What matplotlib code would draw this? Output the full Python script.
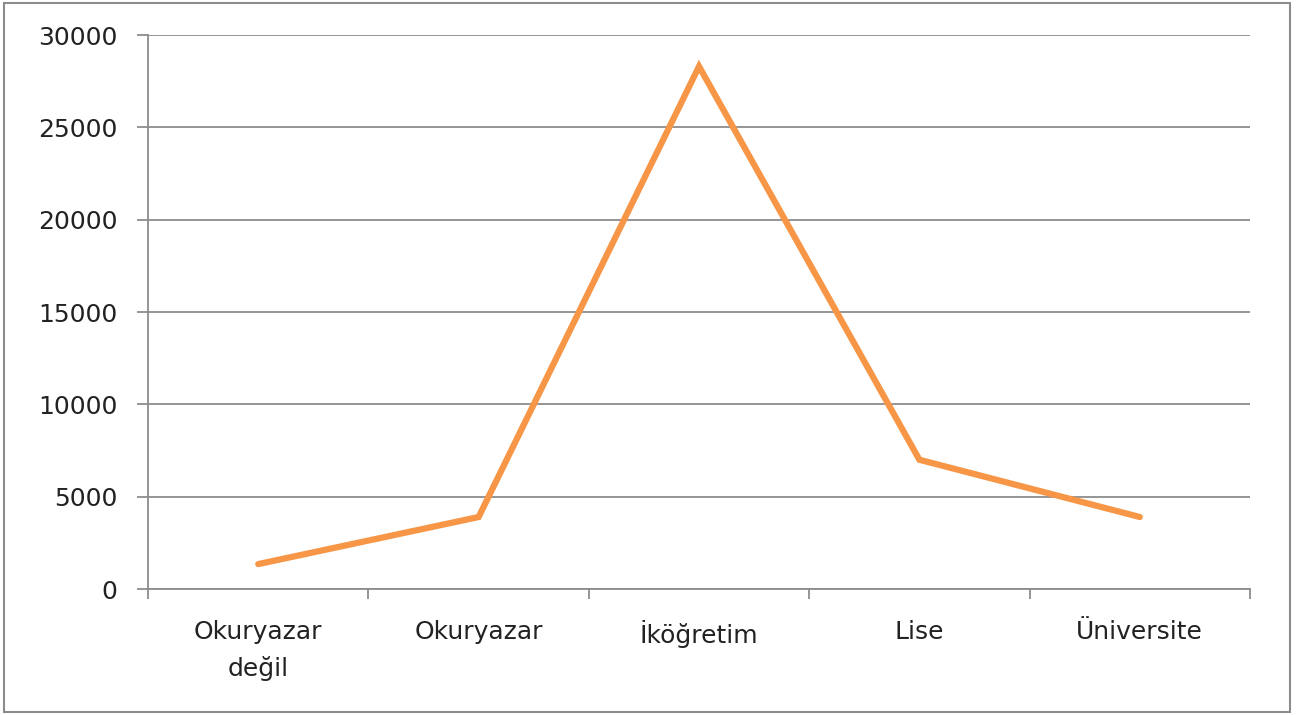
import numpy as np
import matplotlib.pyplot as plt
from matplotlib.patches import Rectangle

# egitim durumu
categories = ["Okuryazar\ndeğil", "Okuryazar", "İköğretim", "Lise", "Üniversite"]
values = [1350, 3900, 28300, 7000, 3900]
yticks = [0, 5000, 10000, 15000, 20000, 25000, 30000]

fig = plt.figure(figsize=(13.01, 7.15), dpi=100)
ax = fig.add_axes([0.1138, 0.1762, 0.847, 0.7748])

x = np.arange(len(categories))
ax.plot(x, values, color="#F79646", linewidth=4.5, solid_capstyle="round", solid_joinstyle="miter", zorder=3)

ax.set_xlim(-0.5, len(categories) - 0.5)
ax.set_ylim(0, 30000)
ax.set_yticks(yticks)
ax.set_yticklabels([str(v) for v in yticks])
ax.set_xticks(x)
ax.set_xticklabels(categories, linespacing=1.6)
ax.set_xticks(np.arange(len(categories) + 1) - 0.5, minor=True)

ax.grid(axis="y", color="#8c8c8c", linewidth=1.3, zorder=0)
for s in ["top", "right"]:
    ax.spines[s].set_visible(False)
for s in ["left", "bottom"]:
    ax.spines[s].set_color("#8c8c8c")
    ax.spines[s].set_linewidth(1.3)

ax.tick_params(axis="y", length=8, width=1.3, color="#8c8c8c", labelsize=18, labelcolor="#222222", pad=14)
ax.tick_params(axis="x", which="major", length=0, labelsize=18, labelcolor="#222222", pad=22)
ax.tick_params(axis="x", which="minor", length=7, width=1.3, color="#8c8c8c")

# outer frame
fig.patches.append(Rectangle((0.003, 0.004), 0.9885, 0.992, transform=fig.transFigure,
                             fill=False, edgecolor="#8c8c8c", linewidth=1.5))

fig.savefig("out.png", dpi=100)
